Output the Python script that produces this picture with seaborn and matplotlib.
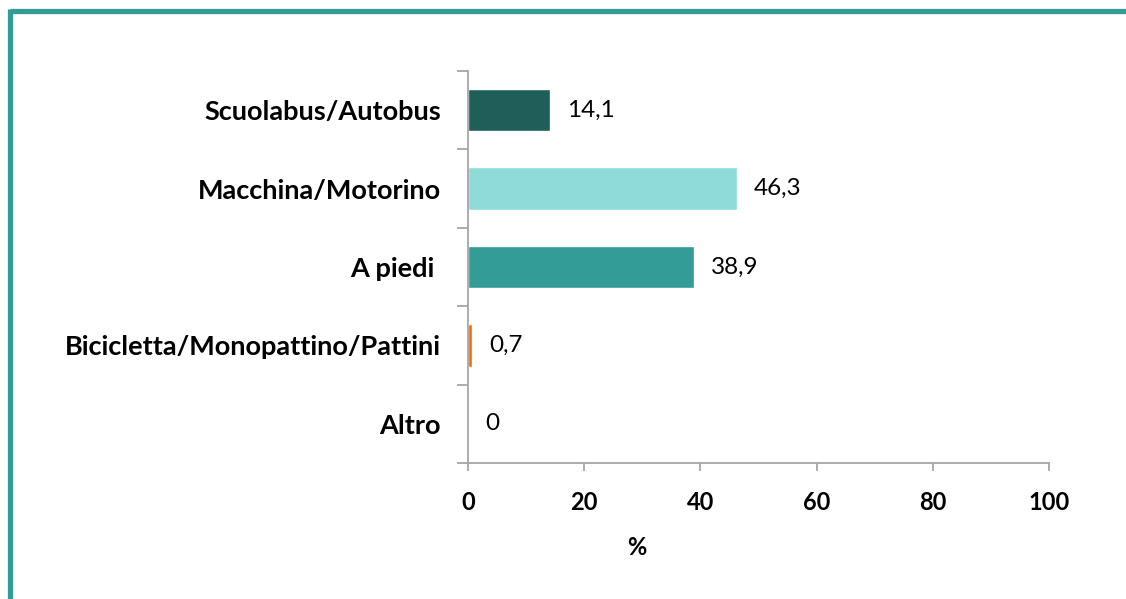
import matplotlib
matplotlib.use("Agg")
import matplotlib.pyplot as plt
from matplotlib.lines import Line2D
from matplotlib.ticker import FixedLocator
import pandas as pd
import seaborn as sns

categories = ["Scuolabus/Autobus", "Macchina/Motorino", "A piedi ",
              "Bicicletta/Monopattino/Pattini", "Altro"]
values = [14.1, 46.3, 38.9, 0.7, 0.0]
colors = ["#1E5F5A", "#8EDBD9", "#339C97", "#FF6600", "#CCCCCC"]
xticks = [0, 20, 40, 60, 80, 100]

df = pd.DataFrame({"mezzo": categories, "pct": values})

sns.set_theme(style="white")
plt.rcParams["font.family"] = ["Lato", "DejaVu Sans"]

fig = plt.figure(figsize=(11.26, 5.99), dpi=100)
ax = fig.add_axes([0.4156, 0.227, 0.516, 0.6544])

sns.barplot(data=df, y="mezzo", x="pct", hue="mezzo", palette=colors,
            orient="h", width=0.54, legend=False, ax=ax, saturation=1)

axis_gray = "#A6A6A6"
for side in ["top", "right"]:
    ax.spines[side].set_visible(False)
for side in ["left", "bottom"]:
    ax.spines[side].set_color(axis_gray)
    ax.spines[side].set_linewidth(1.3)

ax.set_xlim(0, 100)
ax.set_ylim(4.5, -0.5)
ax.set_xticks(xticks)
ax.set_xticklabels([str(t) for t in xticks], fontsize=17, fontweight="bold")
ax.tick_params(axis="x", direction="out", length=6, width=1.3,
               color=axis_gray, pad=14, bottom=True)
ax.tick_params(axis="y", which="major", length=0, pad=19.5)
ax.yaxis.set_minor_locator(FixedLocator([i - 0.5 for i in range(len(categories) + 1)]))
ax.tick_params(axis="y", which="minor", direction="out", length=8, width=1.3,
               color=axis_gray, left=True)
for lab in ax.get_yticklabels():
    lab.set_fontsize(19.5)
    lab.set_fontweight("bold")
    lab.set_color("black")
for lab in ax.get_xticklabels():
    lab.set_color("black")

ax.set_ylabel("")
ax.set_xlabel("%", fontsize=17, fontweight="bold", color="black")
ax.xaxis.set_label_coords(0.29, -0.185)

# value labels with decimal comma
labels = [f"{v:.1f}".replace(".", ",") if v else "0" for v in values]
for i, bar in enumerate(ax.patches[:len(categories)]):
    y = bar.get_y() + bar.get_height() / 2
    ax.annotate(labels[i], (bar.get_width(), y), xytext=(17, 0),
                textcoords="offset pixels", va="center", ha="left",
                fontsize=17.5, color="black")

# teal frame on top and left
teal = "#339C97"
fig.add_artist(Line2D([0.0089, 1.0], [0.981, 0.981], transform=fig.transFigure,
                      color=teal, linewidth=3.8, solid_capstyle="butt"))
fig.add_artist(Line2D([0.0089, 0.0089], [0.981 + 0.004, 0.0], transform=fig.transFigure,
                      color=teal, linewidth=3.8, solid_capstyle="butt"))

fig.savefig("out.png", dpi=100)
